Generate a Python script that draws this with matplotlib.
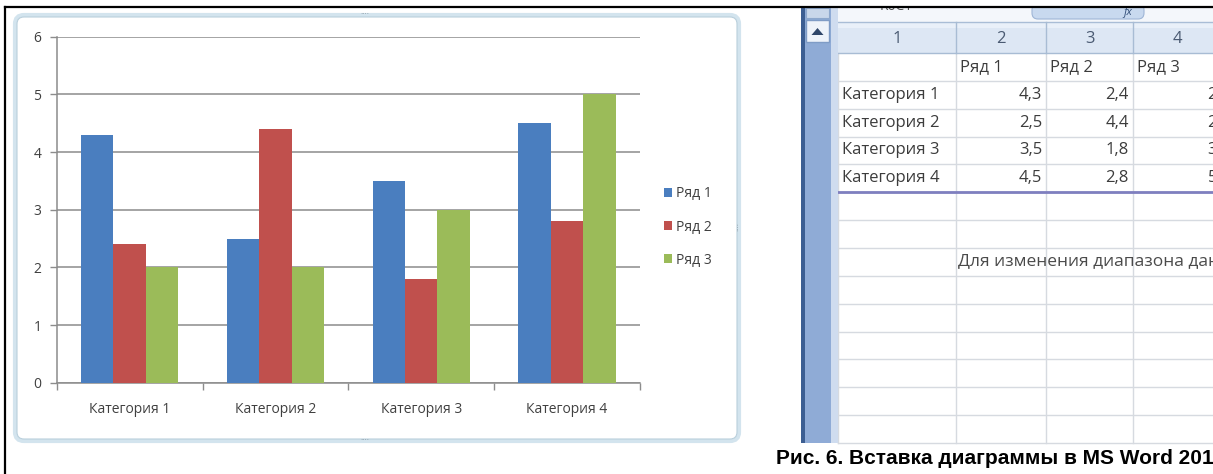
import numpy as np
import matplotlib
matplotlib.use("Agg")
import matplotlib.pyplot as plt
from matplotlib.patches import Rectangle, FancyBboxPatch, Polygon

# ---------------- data ----------------
categories = ["Категория 1", "Категория 2", "Категория 3", "Категория 4"]
series_names = ["Ряд 1", "Ряд 2", "Ряд 3"]
row1 = [4.3, 2.5, 3.5, 4.5]
row2 = [2.4, 4.4, 1.8, 2.8]
row3 = [2, 2, 3, 5]
y_ticks = [0, 1, 2, 3, 4, 5, 6]
col_headers = ["1", "2", "3", "4"]
hint_text = "Для изменения диапазона данных диаграммы перетащите правый нижний угол диапазона."
caption = "Рис. 6. Вставка диаграммы в MS Word 2010"

series = [row1, row2, row3]
colors = ["#4a7ebf", "#c0504d", "#9bbb59"]

FONT = ["Open Sans", "DejaVu Sans"]
plt.rcParams["font.family"] = FONT

W, H = 1213, 474
fig = plt.figure(figsize=(W / 100, H / 100), dpi=100)
fig.patch.set_facecolor("white")

# background axes in pixel coordinates (y down)
bg = fig.add_axes([0, 0, 1, 1], zorder=0)
bg.set_xlim(0, W)
bg.set_ylim(H, 0)
bg.axis("off")

# ---- chart frame ----
bg.add_patch(FancyBboxPatch((15, 15), 724, 426,
                            boxstyle="round,pad=0,rounding_size=9",
                            fc="white", ec="#d3e4ee", lw=3, zorder=1))
bg.add_patch(FancyBboxPatch((17, 17), 720, 422,
                            boxstyle="round,pad=0,rounding_size=7",
                            fc="white", ec="#b9cfdc", lw=0.8, zorder=1.1))
for (hx, hy, rot) in [(365, 15, 0), (365, 441, 0), (739, 226, 90)]:
    bg.text(hx, hy, "····", fontsize=6, color="#8a9aa6", ha="center",
            va="center", rotation=rot, zorder=2)

# ---- spreadsheet ----
sx0, sx1 = 838, W
header_top, header_bot = 22, 53
row_h = (443 - 53) / 14.0
row_lines = [53 + row_h * k for k in range(15)]
col_lines = [838, 956, 1046, 1133]

# formula-bar strip
bg.add_patch(Rectangle((sx0, 7), sx1 - sx0, header_top - 7, fc="#f4f7fb", ec="none", zorder=1))
bg.add_patch(FancyBboxPatch((1032, 4), 112, 15, boxstyle="round,pad=0,rounding_size=6",
                            fc="#c8d9ef", ec="#9fb6d6", lw=0.8, zorder=1.2))
bg.text(1128, 12, "fx", fontsize=8, style="italic", color="#34507a", ha="center", va="center", zorder=1.3)
bg.text(880, 6, "R6C1", fontsize=10, color="#505050", ha="left", va="center", zorder=1.3)
bg.plot([sx0, sx1], [header_top, header_top], color="#a9bdd6", lw=1, zorder=1.3)

# header row
bg.add_patch(Rectangle((sx0, header_top), sx1 - sx0, header_bot - header_top,
                       fc="#dde7f4", ec="none", zorder=1))
bg.add_patch(Rectangle((sx0, header_top), sx1 - sx0, 6, fc="#e9f0f9", ec="none", zorder=1.05))
for i, h in enumerate(col_headers):
    left = col_lines[i]
    right = col_lines[i + 1] if i + 1 < len(col_lines) else 1222
    bg.text((left + right) / 2, (header_top + header_bot) / 2 + 1, h, fontsize=12,
            color="#4a5a72", ha="center", va="center", zorder=2)
for cx in col_lines[1:]:
    bg.plot([cx, cx], [header_top, header_bot], color="#a8bcd4", lw=1, zorder=1.5)
bg.plot([sx0, sx1], [header_bot, header_bot], color="#a8bcd4", lw=1, zorder=1.5)

# grid
for ry in row_lines[1:]:
    bg.plot([sx0, sx1], [ry, ry], color="#d6dae0", lw=1, zorder=1.4)
for cx in col_lines:
    bg.plot([cx, cx], [header_bot, 443], color="#d6dae0", lw=1, zorder=1.4)

txt_col = "#3c3c3c"
# series names row
name_y = (row_lines[0] + row_lines[1]) / 2
for i, name in enumerate(series_names):
    bg.text(col_lines[i + 1] + 4, name_y, name, fontsize=12, color=txt_col,
            ha="left", va="center", zorder=2)
# category rows
col_right = [1042, 1129, 1217]
for r, cat in enumerate(categories):
    cy = (row_lines[r + 1] + row_lines[r + 2]) / 2
    bg.text(842, cy, cat, fontsize=12, color=txt_col, ha="left", va="center", zorder=2)
    for s in range(3):
        v = series[s][r]
        label = (f"{v:.1f}".replace(".", ",")) if s < 2 else f"{v:g}".replace(".", ",")
        bg.text(col_right[s], cy, label, fontsize=12, color=txt_col,
                ha="right", va="center", zorder=2)
# data range border
bg.plot([sx0, sx1], [row_lines[5], row_lines[5]], color="#7f7fbf", lw=2, zorder=1.6)

# hint text
bg.text(958, (row_lines[7] + row_lines[8]) / 2, hint_text, fontsize=12.5,
        color="#4a4a4a", ha="left", va="center", zorder=2)

# scrollbar
bg.add_patch(Rectangle((801, 7), 37, 436, fc="#8fabd6", ec="none", zorder=1.5))
bg.add_patch(Rectangle((801, 7), 4, 436, fc="#3c5e92", ec="none", zorder=1.6))
bg.add_patch(Rectangle((831, 7), 7, 436, fc="#cfdcef", ec="none", zorder=1.6))
bg.add_patch(Rectangle((806, 20), 23, 22, fc="#eef3fa", ec="#7f9cc6", lw=1, zorder=1.7))
bg.add_patch(Polygon([[811.5, 35], [823.5, 35], [817.5, 28]], closed=True,
                     fc="#2f4669", ec="none", zorder=1.8))
bg.add_patch(Rectangle((806, 8), 23, 10, fc="#c9d7ea", ec="#8ea8cc", lw=0.8, zorder=1.7))

# caption
bg.text(776, 459, caption, fontsize=15.0, fontweight="bold",
        family=["Liberation Sans", "DejaVu Sans"], color="black",
        ha="left", va="center", zorder=3)

# outer borders
bg.add_patch(Rectangle((0, 0), W, 6.5, fc="white", ec="none", zorder=4))
bg.plot([5, W], [7, 7], color="black", lw=1.6, zorder=5)
bg.plot([5, 5], [7, H], color="black", lw=1.6, zorder=5)

# ---------------- chart ----------------
left_px, right_px, top_px, bot_px = 56.7, 640.0, 36.7, 382.7
ax = fig.add_axes([left_px / W, 1 - bot_px / H, (right_px - left_px) / W, (bot_px - top_px) / H],
                  zorder=3)
ax.patch.set_alpha(0)

x = np.arange(len(categories))
bw = 1 / 4.5
bars = []
for i, (vals, c) in enumerate(zip(series, colors)):
    b = ax.bar(x + (i - 1) * bw, vals, width=bw, color=c, label=series_names[i], zorder=3)
    bars.append(b)

ax.set_xlim(-0.5, len(categories) - 0.5)
ax.set_ylim(0, 6)
ax.set_yticks(y_ticks)
ax.set_yticklabels([str(t) for t in y_ticks])
ax.set_xticks(x)
ax.set_xticklabels(categories)
ax.set_xticks(np.arange(len(categories) + 1) - 0.5, minor=True)

grid_c = "#8c8c8c"
ax.yaxis.grid(True, color=grid_c, lw=1.1, zorder=1)
ax.set_axisbelow(True)
for sp in ["top", "right"]:
    ax.spines[sp].set_visible(False)
ax.spines["left"].set_color(grid_c)
ax.spines["bottom"].set_color(grid_c)
ax.spines["left"].set_linewidth(1.1)
ax.spines["bottom"].set_linewidth(1.1)

ax.tick_params(axis="y", length=5, width=1, color=grid_c, pad=6, labelsize=10, labelcolor="#404040")
ax.tick_params(axis="x", which="major", length=0, pad=14, labelsize=10, labelcolor="#404040")
ax.tick_params(axis="x", which="minor", length=5, width=1, color=grid_c)

leg = ax.legend(loc="center left", bbox_to_anchor=(664 / W, 1 - 227 / H),
                bbox_transform=fig.transFigure, frameon=False, fontsize=10,
                handlelength=0.55, handleheight=0.55, handletextpad=0.3,
                labelspacing=1.3, borderpad=0, borderaxespad=0)
for t in leg.get_texts():
    t.set_color("#404040")

fig.savefig("out.png", dpi=100, facecolor="white")
